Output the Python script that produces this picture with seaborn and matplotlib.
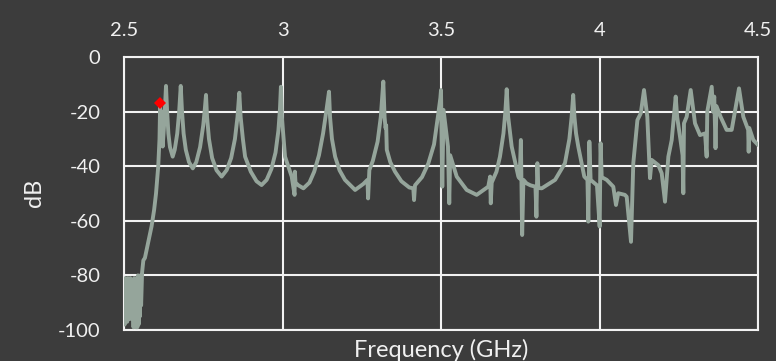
import matplotlib
matplotlib.use("Agg")
import matplotlib.pyplot as plt
import seaborn as sns
import pandas as pd

# Measured S-parameter sweep (frequency in GHz, magnitude in dB)
freq_ghz = [
    2.500, 2.502, 2.504, 2.506, 2.508, 2.510, 2.512, 2.514, 2.516, 2.518, 2.520, 2.522, 2.524, 2.526, 2.528,
    2.530, 2.532, 2.534, 2.536, 2.538, 2.540, 2.542, 2.544, 2.546, 2.548, 2.550, 2.552, 2.554, 2.557,
    2.561, 2.566, 2.576, 2.587, 2.595, 2.601, 2.608, 2.612, 2.614, 2.617, 2.620, 2.622, 2.627, 2.6325,
    2.636, 2.640, 2.645, 2.6536, 2.660, 2.668, 2.674, 2.679,
    2.683, 2.688, 2.695, 2.705, 2.717, 2.728, 2.740, 2.750, 2.755, 2.7587,
    2.762, 2.768, 2.778, 2.792, 2.808, 2.824, 2.838, 2.850, 2.858, 2.8637,
    2.868, 2.875, 2.882, 2.900, 2.918, 2.934, 2.950, 2.965, 2.978, 2.987, 2.992, 2.995,
    2.998, 3.008, 3.029, 3.038, 3.039, 3.041, 3.050, 3.066, 3.085, 3.100, 3.115, 3.128, 3.138, 3.1467,
    3.150, 3.156, 3.166, 3.180, 3.197, 3.229, 3.255, 3.268, 3.270, 3.274, 3.285, 3.300, 3.310, 3.318,
    3.322, 3.325, 3.327, 3.329, 3.340, 3.355, 3.375, 3.400, 3.4126, 3.415, 3.418, 3.440, 3.460, 3.478, 3.490, 3.498, 3.500,
    3.504, 3.508, 3.522, 3.526, 3.529, 3.5495, 3.581, 3.6126, 3.649, 3.655, 3.657, 3.660, 3.675, 3.686, 3.697, 3.703, 3.7073,
    3.712, 3.723, 3.744, 3.748, 3.752, 3.756, 3.760, 3.770, 3.782, 3.798, 3.801, 3.804, 3.807, 3.818, 3.860, 3.891, 3.905, 3.912, 3.917,
    3.921, 3.926, 3.933, 3.952, 3.962, 3.9647, 3.968, 3.972, 3.985, 3.992, 4.0005, 4.0035, 4.007, 4.0227, 4.0435, 4.052, 4.059, 4.080, 4.0858, 4.0994,
    4.1066, 4.1196, 4.1303, 4.1404, 4.1508, 4.1593, 4.1646, 4.1855, 4.1962, 4.2066, 4.2172, 4.2278, 4.2404,
    4.245, 4.255, 4.262, 4.2644, 4.2665, 4.275, 4.2877, 4.3013, 4.317, 4.333, 4.338, 4.340, 4.354, 4.358, 4.362, 4.366, 4.369, 4.382, 4.401, 4.417, 4.4401,
    4.4536, 4.469, 4.4706, 4.4725, 4.4852, 4.500,
]
s_db = [
    -86, -98, -81, -95, -82, -97, -81, -94, -82, -96, -81, -93, -84, -92, -87,
    -99, -81, -98, -82, -99, -81, -99, -80, -98, -81, -95, -80, -91, -79,
    -74.5, -73.6, -68, -62, -56, -50, -40, -30, -17, -30, -20, -32.8, -24, -10.6,
    -20, -28, -33, -36.5, -34, -28, -20, -10.6,
    -20, -28, -34, -38.5, -40.8, -38.5, -33, -25, -19, -13.9,
    -22, -30, -37, -41.5, -43.8, -41.4, -37, -30, -22, -13.1,
    -22, -30, -36.5, -42, -45.5, -46.9, -45, -41, -35, -27, -19, -10.9,
    -22, -36.5, -43.8, -50.5, -42, -46, -47, -48.1, -46, -42, -36, -28, -20, -12.7,
    -22, -30, -36.5, -41.5, -45, -48.7, -46.5, -45, -51.8, -41.4, -38, -31, -22, -9.0,
    -22, -26, -25, -34, -38.5, -42, -45.5, -47.8, -48.1, -52.4, -47, -44, -39, -32, -22, -15, -12.1,
    -47.5, -19.4, -32.8, -53.6, -36, -43.8, -48.7, -50.5, -47.5, -43.8, -53.6, -46, -42, -36.5, -28, -20, -11.8,
    -22, -32.8, -43.8, -44.5, -30.4, -65.2, -45, -46.3, -47, -47.5, -58.5, -38.9, -48, -48.1, -45, -38.9, -30, -22, -13.9,
    -22, -28, -32.8, -43.8, -45, -60.3, -31, -45, -46.3, -47, -62.1, -31.6, -44, -45, -47.5, -54.2, -49.9, -50.5, -51.2, -67.7,
    -38.9, -23.1, -20.6, -12.1, -21.9, -44.4, -37.7, -39.6, -42.6, -53, -36.5, -30.4, -14.5,
    -22, -30, -36, -49.9, -24.3, -21.9, -12.1, -24.3, -28.6, -28, -36.5, -20, -10.9, -20, -14.5, -33.4, -18, -21.9, -26.7, -26.7, -11.5,
    -21.9, -26.7, -34.7, -26, -30.4, -32.2,
]

# Highlighted marker point
marker_ghz = [2.614]
marker_db = [-16.7]

x_ticks = [2.5, 3, 3.5, 4, 4.5]
x_tick_labels = ["2.5", "3", "3.5", "4", "4.5"]
y_ticks = [0, -20, -40, -60, -80, -100]

BG = "#3c3c3c"
LINE = "#95a59b"
GRID = "#f2f2f2"
TEXT = "#f0f0f0"

sns.set_theme(style="dark")
plt.rcParams["font.family"] = ["Lato", "DejaVu Sans"]
plt.rcParams["axes.unicode_minus"] = False

fig = plt.figure(figsize=(7.76, 3.61), dpi=100, facecolor=BG)
ax = fig.add_axes([124 / 776, 1 - 330 / 361, (758 - 124) / 776, (330 - 57) / 361])
ax.set_facecolor(BG)

df = pd.DataFrame({"freq": freq_ghz, "db": s_db})
sns.lineplot(data=df, x="freq", y="db", ax=ax, sort=False, estimator=None,
             color=LINE, linewidth=2.8, solid_joinstyle="round", solid_capstyle="round", zorder=3)
ax.plot(marker_ghz, marker_db, linestyle="none", marker="D", markersize=6.5,
        color="#ff0000", markeredgewidth=0, zorder=4)

ax.set_xlim(2.5, 4.5)
ax.set_ylim(-100, 0)
ax.set_xticks(x_ticks)
ax.set_xticklabels(x_tick_labels)
ax.set_yticks(y_ticks)
ax.xaxis.tick_top()
ax.tick_params(axis="x", length=0, pad=13, labelsize=14.5, colors=TEXT)
ax.tick_params(axis="y", length=0, pad=17, labelsize=14.5, colors=TEXT)
ax.grid(True, color=GRID, linewidth=1.5)
for side in ["left", "right", "top", "bottom"]:
    ax.spines[side].set_visible(True)
    ax.spines[side].set_color(GRID)
    ax.spines[side].set_linewidth(1.5)

ax.set_xlabel("")
ax.set_ylabel("")
fig.text(34 / 776, 1 - 193 / 361, "dB", rotation=90, ha="center", va="center",
         fontsize=17, color=TEXT)
fig.text(441 / 776, 1 - 350 / 361, "Frequency (GHz)", ha="center", va="center",
         fontsize=17, color=TEXT)

fig.savefig("out.png", dpi=100, facecolor=BG)
